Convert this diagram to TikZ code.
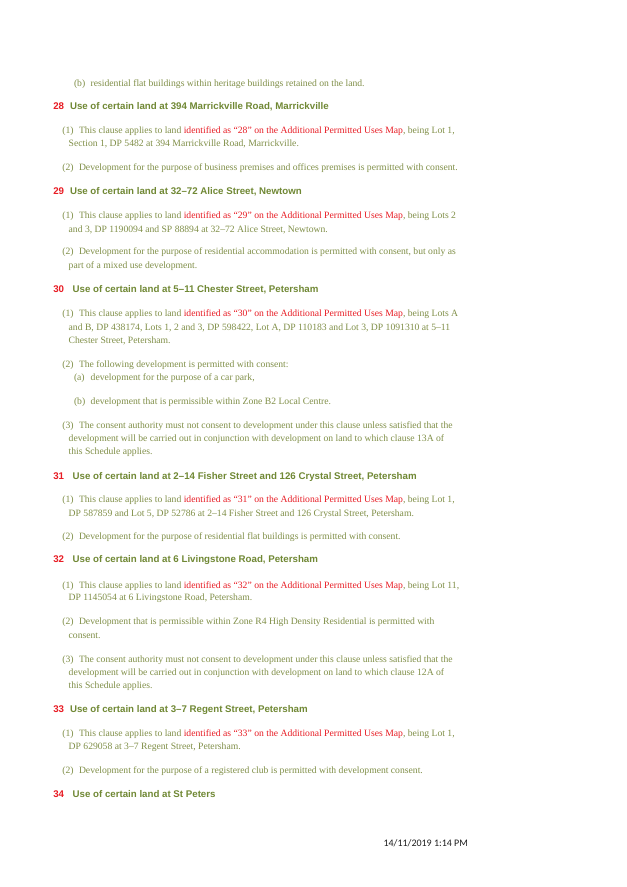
\documentclass[tikz,border=0pt]{standalone}
\usepackage{fontspec}
\setmainfont{Liberation Serif}
\newfontfamily\hsans{Liberation Sans}
\newfontfamily\footfont{Carlito}
\definecolor{bodyc}{RGB}{128,143,72}
\definecolor{headc}{RGB}{112,136,52}
\definecolor{redc}{RGB}{232,28,36}
\definecolor{footc}{RGB}{30,30,30}
\newcommand{\rd}[1]{\textcolor{redc}{#1}}
\begin{document}
\begin{tikzpicture}[x=1pt,y=-1pt,
  txt/.style={anchor=base west,inner sep=0pt,outer sep=0pt,text=bodyc,font=\fontsize{9.65}{11}\selectfont},
  hd/.style={anchor=base west,inner sep=0pt,outer sep=0pt,text=headc,font=\hsans\bfseries\fontsize{9.7}{11}\selectfont},
  hn/.style={anchor=base west,inner sep=0pt,outer sep=0pt,text=redc,font=\hsans\bfseries\fontsize{9.7}{11}\selectfont}]
\useasboundingbox[fill=white] (0,0) rectangle (627,887);
% 27 (b)
\node[txt] (l27b) at (74,86.3) {(b)};
\node[txt] (t27b) at (90.7,86.3) {residential flat buildings within heritage buildings retained on the land.};
% 28
\node[hn] (n28) at (53.3,109.2) {28};
\node[hd] (h28) at (70,109.2) {Use of certain land at 394 Marrickville Road, Marrickville};
\node[txt] (l28a) at (62.3,133.7) {(1)};
\node[txt] (t28a) at (79,133.7) {This clause applies to land \rd{identified as “28” on the Additional Permitted Uses Map}, being Lot 1,};
\node[txt] (t28a2) at (68.7,146.3) {Section 1, DP 5482 at 394 Marrickville Road, Marrickville.};
\node[txt] (l28b) at (62.3,170.7) {(2)};
\node[txt] (t28b) at (79,170.7) {Development for the purpose of business premises and offices premises is permitted with consent.};
% 29
\node[hn] (n29) at (53.3,194.5) {29};
\node[hd] (h29) at (70,194.5) {Use of certain land at 32–72 Alice Street, Newtown};
\node[txt] (l29a) at (62.3,218) {(1)};
\node[txt] (t29a) at (79,218) {This clause applies to land \rd{identified as “29” on the Additional Permitted Uses Map}, being Lots 2};
\node[txt] (t29a2) at (68.7,232.3) {and 3, DP 1190094 and SP 88894 at 32–72 Alice Street, Newtown.};
\node[txt] (l29b) at (62.3,254.7) {(2)};
\node[txt] (t29b) at (79,254.7) {Development for the purpose of residential accommodation is permitted with consent, but only as};
\node[txt] (t29b2) at (68.7,268.7) {part of a mixed use development.};
% 30
\node[hn] (n30) at (53.3,292.8) {30};
\node[hd] (h30) at (72.7,292.8) {Use of certain land at 5–11 Chester Street, Petersham};
\node[txt] (l30a) at (62.3,316.3) {(1)};
\node[txt] (t30a) at (79,316.3) {This clause applies to land \rd{identified as “30” on the Additional Permitted Uses Map}, being Lots A};
\node[txt] (t30a2) at (68.7,330.3) {and B, DP 438174, Lots 1, 2 and 3, DP 598422, Lot A, DP 110183 and Lot 3, DP 1091310 at 5–11};
\node[txt] (t30a3) at (68.7,343.3) {Chester Street, Petersham.};
\node[txt] (l30b) at (62.3,367.3) {(2)};
\node[txt] (t30b) at (79,367.3) {The following development is permitted with consent:};
\node[txt] (l30ba) at (74,380.3) {(a)};
\node[txt] (t30ba) at (90.7,380.3) {development for the purpose of a car park,};
\node[txt] (l30bb) at (74,404.7) {(b)};
\node[txt] (t30bb) at (90.7,404.7) {development that is permissible within Zone B2 Local Centre.};
\node[txt] (l30c) at (62.3,428) {(3)};
\node[txt] (t30c) at (79,428) {The consent authority must not consent to development under this clause unless satisfied that the};
\node[txt] (t30c2) at (68.7,441.3) {development will be carried out in conjunction with development on land to which clause 13A of};
\node[txt] (t30c3) at (68.7,454.7) {this Schedule applies.};
% 31
\node[hn] (n31) at (53.3,479.2) {31};
\node[hd] (h31) at (72.7,479.2) {Use of certain land at 2–14 Fisher Street and 126 Crystal Street, Petersham};
\node[txt] (l31a) at (62.3,502.7) {(1)};
\node[txt] (t31a) at (79,502.7) {This clause applies to land \rd{identified as “31” on the Additional Permitted Uses Map}, being Lot 1,};
\node[txt] (t31a2) at (68.7,516) {DP 587859 and Lot 5, DP 52786 at 2–14 Fisher Street and 126 Crystal Street, Petersham.};
\node[txt] (l31b) at (62.3,539.3) {(2)};
\node[txt] (t31b) at (79,539.3) {Development for the purpose of residential flat buildings is permitted with consent.};
% 32
\node[hn] (n32) at (53.3,562.4) {32};
\node[hd] (h32) at (72.7,562.4) {Use of certain land at 6 Livingstone Road, Petersham};
\node[txt] (l32a) at (62.3,588) {(1)};
\node[txt] (t32a) at (79,588) {This clause applies to land \rd{identified as “32” on the Additional Permitted Uses Map}, being Lot 11,};
\node[txt] (t32a2) at (68.7,600.7) {DP 1145054 at 6 Livingstone Road, Petersham.};
\node[txt] (l32b) at (62.3,624.7) {(2)};
\node[txt] (t32b) at (79,624.7) {Development that is permissible within Zone R4 High Density Residential is permitted with};
\node[txt] (t32b2) at (68.7,638) {consent.};
\node[txt] (l32c) at (62.3,662) {(3)};
\node[txt] (t32c) at (79,662) {The consent authority must not consent to development under this clause unless satisfied that the};
\node[txt] (t32c2) at (68.7,675) {development will be carried out in conjunction with development on land to which clause 12A of};
\node[txt] (t32c3) at (68.7,688.7) {this Schedule applies.};
% 33
\node[hn] (n33) at (53.3,712.9) {33};
\node[hd] (h33) at (70,712.9) {Use of certain land at 3–7 Regent Street, Petersham};
\node[txt] (l33a) at (62.3,736.3) {(1)};
\node[txt] (t33a) at (79,736.3) {This clause applies to land \rd{identified as “33” on the Additional Permitted Uses Map}, being Lot 1,};
\node[txt] (t33a2) at (68.7,749.7) {DP 629058 at 3–7 Regent Street, Petersham.};
\node[txt] (l33b) at (62.3,773.3) {(2)};
\node[txt] (t33b) at (79,773.3) {Development for the purpose of a registered club is permitted with development consent.};
% 34
\node[hn] (n34) at (53.3,797.4) {34};
\node[hd] (h34) at (72.7,797.4) {Use of certain land at St Peters};
% footer
\node[anchor=base west,inner sep=0pt,text=footc,font=\footfont\fontsize{10}{11}\selectfont] (foot) at (383.3,846.8) {14/11/2019 1:14 PM};
\end{tikzpicture}
\end{document}
